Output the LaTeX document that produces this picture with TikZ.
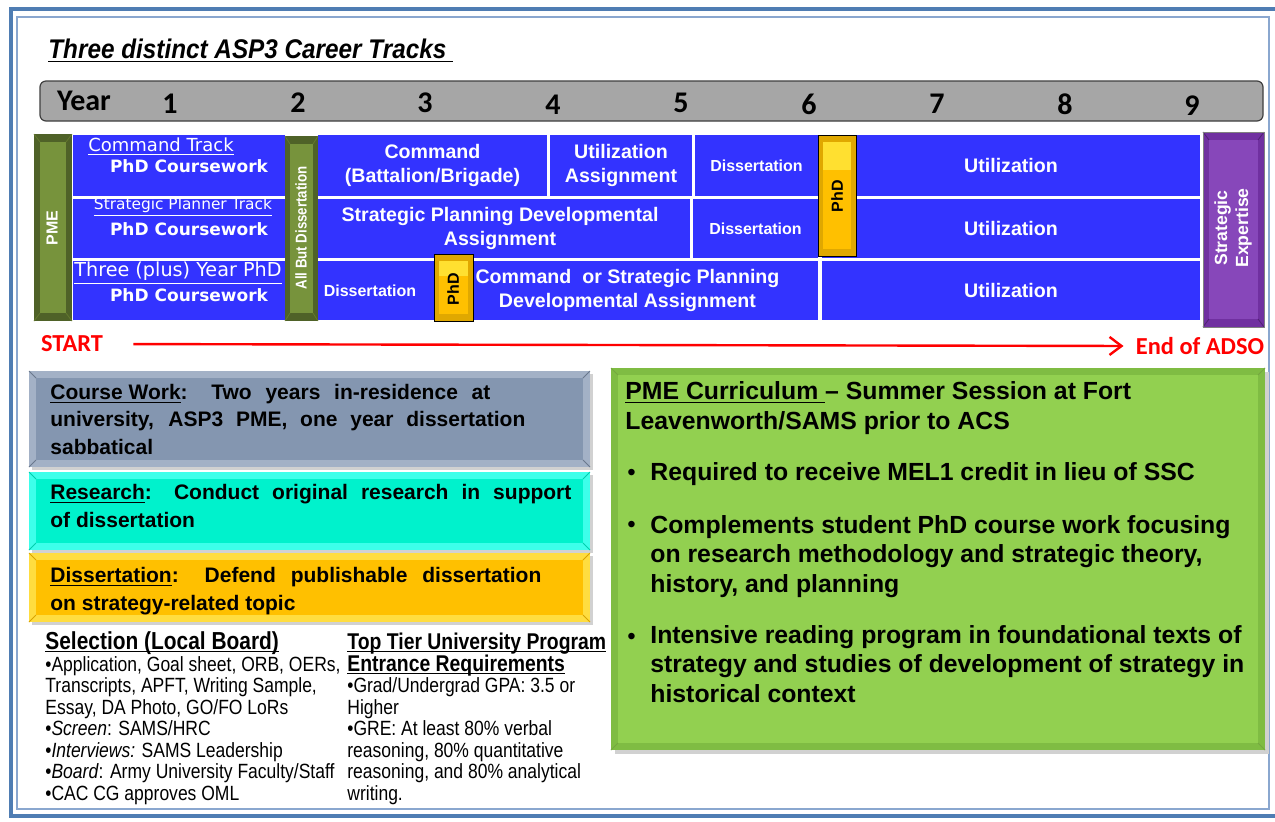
\documentclass[tikz,border=0pt]{standalone}
\usepackage{fontspec}
\setmainfont{Liberation Sans}
\newfontfamily\condensed[FakeStretch=0.9]{Liberation Sans}
\newfontfamily\narrowfont[FakeStretch=0.85]{Liberation Sans}
\newfontfamily\yearfont{Carlito}
\newfontfamily\handfont{DejaVu Sans}
\usetikzlibrary{arrows.meta}

\definecolor{trackblue}{HTML}{3333FF}
\definecolor{framedark}{HTML}{4F7DB3}
\definecolor{framelight}{HTML}{8AA7CF}
\definecolor{yearfill}{HTML}{A6A6A6}
\definecolor{yearline}{HTML}{404040}
\definecolor{pmedark}{HTML}{4F6228}
\definecolor{pmelight}{HTML}{77933C}
\definecolor{pmeedge}{HTML}{64792F}
\definecolor{phdfill}{HTML}{FFC000}
\definecolor{phdlight}{HTML}{FFE030}
\definecolor{phdedge}{HTML}{E0A800}
\definecolor{purpfill}{HTML}{7030A0}
\definecolor{purplight}{HTML}{8747BA}
\definecolor{arrowred}{HTML}{FF0000}
\definecolor{cwfill}{HTML}{8496B0}
\definecolor{cwedge}{HTML}{A3B1C6}
\definecolor{resfill}{HTML}{00F2CC}
\definecolor{resedge}{HTML}{3DFFEA}
\definecolor{dissfill}{HTML}{FFC000}
\definecolor{dissedge}{HTML}{FFDD40}
\definecolor{greenfill}{HTML}{92D050}
\definecolor{greenedge}{HTML}{7FBC43}

\newcommand{\headline}[1]{\underline{\smash{#1}}}

\tikzset{
  cellfont/.style={text=white,font=\bfseries\fontsize{9.8}{12}\selectfont,align=center,inner sep=0pt},
  dissfont/.style={text=white,font=\bfseries\fontsize{8}{10}\selectfont,inner sep=0pt},
  handtext/.style={text=white,inner sep=0pt},
  bartext/.style={rotate=90,inner sep=0pt,align=center,font=\bfseries\fontsize{8}{10.5}\selectfont},
  yearnum/.style={font=\yearfont\bfseries\fontsize{15}{18}\selectfont,inner sep=0pt},
  boxtext/.style={anchor=base west,align=left,inner sep=0pt,font=\bfseries\fontsize{10.5}{13.75}\selectfont},
  greentext/.style={anchor=base west,align=left,inner sep=0pt,font=\bfseries\fontsize{12.4}{14.75}\selectfont},
  selhead/.style={anchor=base west,align=left,inner sep=0pt,font=\narrowfont\bfseries\fontsize{11.4}{11}\selectfont},
  seltext/.style={anchor=base west,align=left,inner sep=0pt,font=\narrowfont\fontsize{10.3}{10.75}\selectfont},
  endlabel/.style={text=arrowred,font=\yearfont\bfseries\fontsize{12.2}{14}\selectfont,inner sep=0pt}
}

\begin{document}
\begin{tikzpicture}[x=0.5pt,y=-0.5pt]
\useasboundingbox (0,0) rectangle (1275,821);
\fill[white] (0,0) rectangle (1275,821);

% Frame
\draw[framedark,line width=2pt] (1275,9) -- (11,9) -- (11,816) -- (1275,816);
\draw[framelight,line width=0.6pt] (17,17) rectangle (1269,809);

% Title
\node[anchor=base west,inner sep=0pt,font=\condensed\bfseries\itshape\fontsize{13.5}{16}\selectfont] (title) at (48,58) {\underline{Three distinct ASP3 Career Tracks\ }};

% Year bar
\draw[yearline,fill=yearfill,rounded corners=3pt,line width=0.6pt] (40,81) rectangle (1263,121);
\node[yearnum] (year) at (84,101) {Year};
\node[yearnum] (y1) at (170,104) {1};
\node[yearnum] (y2) at (298,103) {2};
\node[yearnum] (y3) at (425,103) {3};
\node[yearnum] (y4) at (553,105) {4};
\node[yearnum] (y5) at (681,103) {5};
\node[yearnum] (y6) at (809,104) {6};
\node[yearnum] (y7) at (937,104) {7};
\node[yearnum] (y8) at (1065,104) {8};
\node[yearnum] (y9) at (1192,106) {9};

% Command track
\fill[trackblue] (73,135) rectangle (285,196);
\node[handtext,font=\handfont\fontsize{9}{11}\selectfont] (cmdtrack) at (161,147) {\underline{Command Track}};
\node[handtext,font=\handfont\bfseries\fontsize{8.5}{10}\selectfont] (cw1) at (189,166) {PhD Coursework};
\fill[trackblue] (318,135) rectangle (547,196) node[pos=.5,cellfont] (cmd) {Command\\(Battalion/Brigade)};
\fill[trackblue] (550,135) rectangle (692,196) node[pos=.5,cellfont] (utilasg) {Utilization\\Assignment};
\fill[trackblue] (695,135) rectangle (818,196) node[pos=.5,dissfont] (diss1) {Dissertation};
\fill[trackblue] (822,135) rectangle (1200,196) node[pos=.5,cellfont] (util1) {Utilization};

% Strategic planner track
\fill[trackblue] (73,199) rectangle (285,258);
\node[handtext,font=\handfont\fontsize{7.7}{9}\selectfont] (plantrack) at (183,207) {\underline{Strategic Planner Track}};
\node[handtext,font=\handfont\bfseries\fontsize{8.5}{10}\selectfont] (cw2) at (189,229) {PhD Coursework};
\fill[trackblue] (310,199) rectangle (690,258) node[pos=.5,cellfont] (spda) {Strategic Planning Developmental\\Assignment};
\fill[trackblue] (693,199) rectangle (818,258) node[pos=.5,dissfont] (diss2) {Dissertation};
\fill[trackblue] (822,199) rectangle (1200,258) node[pos=.5,cellfont] (util2) {Utilization};

% Three year track
\fill[trackblue] (73,261) rectangle (285,320);
\node[handtext,font=\handfont\fontsize{9.6}{11}\selectfont] (threetrack) at (178,273) {\underline{Three (plus) Year PhD}};
\node[handtext,font=\handfont\bfseries\fontsize{8.5}{10}\selectfont] (cw3) at (189,295) {PhD Coursework};
\fill[trackblue] (305,261) rectangle (435,320) node[pos=.5,dissfont] (diss3) {Dissertation};
\fill[trackblue] (437,261) rectangle (818,320) node[pos=.5,cellfont] (cosp) {Command \ or Strategic Planning\\Developmental Assignment};
\fill[trackblue] (822,261) rectangle (1200,320) node[pos=.5,cellfont] (util3) {Utilization};

% PME bar
\fill[pmedark] (34,134) rectangle (72,321);
\fill[pmelight] (40,142) rectangle (66,313);
\draw[pmeedge] (34,134) -- (40,142) (72,134) -- (66,142) (34,321) -- (40,313) (72,321) -- (66,313);
\node[bartext,text=white,font=\bfseries\fontsize{8}{10}\selectfont] (pme) at (52,228) {PME};

% All but dissertation bar
\fill[pmedark] (285,136) rectangle (318,321);
\fill[pmelight] (290,144) rectangle (313,313);
\draw[pmeedge] (285,136) -- (290,144) (318,136) -- (313,144) (285,321) -- (290,313) (318,321) -- (313,313);
\node[bartext,text=white,font=\narrowfont\bfseries\fontsize{7.8}{10}\selectfont] (abd) at (301,228) {All But Dissertation};

% PhD bars
\fill[phdedge] (818,135) rectangle (856,256);
\fill[phdfill] (823,142) rectangle (851,249);
\fill[phdlight] (823,142) rectangle (851,170);
\draw[black,line width=0.5pt] (818,135) rectangle (856,256);
\node[bartext,text=black] (phd1) at (837,196) {PhD};

\fill[phdedge] (434,254) rectangle (473,321);
\fill[phdfill] (439,261) rectangle (468,314);
\fill[phdlight] (439,261) rectangle (468,276);
\draw[black,line width=0.5pt] (434,254) rectangle (473,321);
\node[bartext,text=black] (phd2) at (453,289) {PhD};

% Strategic expertise bar
\fill[purpfill] (1203,132) rectangle (1264,327);
\fill[purplight] (1209,140) rectangle (1258,319);
\draw[purpfill!70!black] (1203,132) -- (1209,140) (1264,132) -- (1258,140) (1203,327) -- (1209,319) (1264,327) -- (1258,319);
\draw[gray,line width=0.5pt] (1203,132) rectangle (1264,327);
\node[bartext,text=white,font=\bfseries\fontsize{8.8}{10.5}\selectfont] (expert) at (1233,228) {Strategic\\Expertise};

% Start to end of ADSO
\node[endlabel] (start) at (72,344) {START};
\node[endlabel] (adso) at (1200,346) {End of ADSO};
\draw[arrowred,line width=1.2pt,-{Straight Barb[length=6pt,width=9pt]},shorten <=15pt,shorten >=6pt] (start.east) -- (adso.west);

% Course work
\fill[black!18] (32,374) rectangle (593,470);
\fill[cwedge] (29,371) rectangle (590,467);
\fill[cwfill] (36,378) rectangle (583,460);
\draw[cwfill!80!black] (29,371) -- (36,378) (590,371) -- (583,378) (29,467) -- (36,460) (590,467) -- (583,460);
\node[boxtext] (course) at (50,454) {\makebox[220pt][s]{\underline{Course Work}: Two years in-residence at}\\\makebox[237.5pt][s]{university, ASP3 PME, one year dissertation}\\sabbatical};

% Research
\fill[black!18] (32,475) rectangle (593,553);
\fill[resedge] (29,472) rectangle (590,550);
\fill[resfill] (36,479) rectangle (583,543);
\draw[resfill!85!black] (29,472) -- (36,479) (590,472) -- (583,479) (29,550) -- (36,543) (590,550) -- (583,543);
\node[boxtext] (research) at (50,527) {\makebox[260.5pt][s]{\underline{Research}: Conduct original research in support}\\of dissertation};

% Dissertation
\fill[black!18] (32,556) rectangle (593,625);
\fill[dissedge] (29,553) rectangle (590,622);
\fill[dissfill] (36,560) rectangle (583,615);
\draw[dissfill!85!black] (29,553) -- (36,560) (590,553) -- (583,560) (29,622) -- (36,615) (590,622) -- (583,615);
\node[boxtext] (dissert) at (50,610) {\makebox[245.5pt][s]{\underline{Dissertation}: Defend publishable dissertation}\\on strategy-related topic};

% PME curriculum
\fill[black!18] (615,372) rectangle (1269,754);
\fill[greenedge] (611,368) rectangle (1265,750);
\fill[greenfill] (618,375) rectangle (1258,743);
\draw[greenfill!80!black] (611,368) -- (618,375) (1265,368) -- (1258,375) (611,750) -- (618,743) (1265,750) -- (1258,743);
\node[greentext] (pmehead) at (625,429) {\underline{PME Curriculum }– Summer Session at Fort\\Leavenworth/SAMS prior to ACS};
\node[greentext,font=\fontsize{12}{14}\selectfont] (dot1) at (627,480) {•};
\node[greentext] (item1) at (650,480) {Required to receive MEL1 credit in lieu of SSC};
\node[greentext,font=\fontsize{12}{14}\selectfont] (dot2) at (627,532) {•};
\node[greentext] (item2) at (650,592) {Complements student PhD course work focusing\\on research methodology and strategic theory,\\history, and planning};
\node[greentext,font=\fontsize{12}{14}\selectfont] (dot3) at (627,644) {•};
\node[greentext] (item3) at (650,702) {Intensive reading program in foundational texts of\\strategy and studies of development of strategy in\\historical context};

% Selection
\node[selhead,font=\narrowfont\bfseries\fontsize{12.3}{12}\selectfont] (selhead) at (45,649) {\headline{Selection (Local Board)}};
\node[seltext] (sellist) at (45,800) {•Application, Goal sheet, ORB, OERs,\\Transcripts, APFT, Writing Sample,\\Essay, DA Photo, GO/FO LoRs\\•\textit{Screen}: SAMS/HRC\\•\textit{Interviews:} SAMS Leadership\\•\textit{Board}: Army University Faculty/Staff\\•CAC CG approves OML};

% Entrance requirements
\node[selhead] (tierhead) at (347,671) {\headline{Top Tier University Program}\\\headline{Entrance Requirements}};
\node[seltext] (tierlist) at (347,800) {•Grad/Undergrad GPA: 3.5 or\\Higher\\•GRE: At least 80\% verbal\\reasoning, 80\% quantitative\\reasoning, and 80\% analytical\\writing.};

\end{tikzpicture}
\end{document}
